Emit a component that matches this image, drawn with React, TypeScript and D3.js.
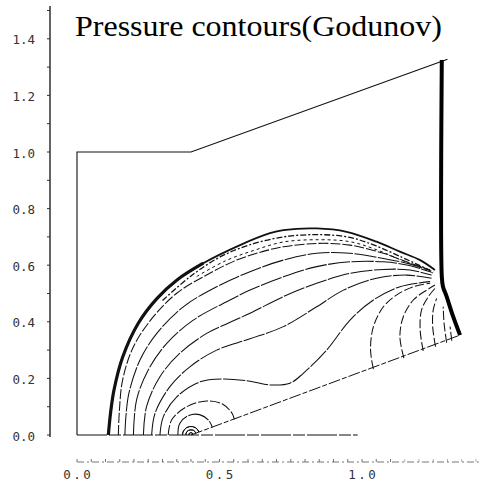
import React from "react";
import * as d3 from "d3";

type P = [number, number];

const title = "Pressure contours(Godunov)";
const yTickLabels = [0, 0.2, 0.4, 0.6, 0.8, 1.0, 1.2, 1.4];
const yMinorTicks = [0, 0.1, 0.2, 0.3, 0.4, 0.5, 0.6, 0.7, 0.8, 0.9, 1.0, 1.1, 1.2, 1.3, 1.4, 1.5];
const xTickLabels = [0, 0.5, 1.0];
const xMinorTicks = [0, 0.05, 0.1, 0.15, 0.2, 0.25, 0.3, 0.35, 0.4, 0.45, 0.5, 0.55, 0.6, 0.65, 0.7, 0.75, 0.8, 0.85, 0.9, 0.95, 1.0, 1.05, 1.1, 1.15, 1.2, 1.25, 1.3, 1.35, 1.4];

const boundary: P[] = [[0, 0], [0, 1], [0.4, 1], [1.3, 1.328]];
const symmetryLine: P[] = [[0, 0], [0.985, 0]];
const wedge: P[] = [[0.4, 0], [1.344, 0.353]];

const bowShock: P[] = [[0.110, 0], [0.118, 0.08], [0.130, 0.16], [0.160, 0.275], [0.215, 0.395], [0.281, 0.483], [0.351, 0.548], [0.443, 0.607], [0.572, 0.671], [0.677, 0.713], [0.724, 0.724], [0.841, 0.730], [0.946, 0.718], [1.051, 0.683], [1.133, 0.648], [1.204, 0.618], [1.256, 0.583]];
const bowShockThick: P[] = [[0.110, 0], [0.118, 0.08], [0.130, 0.16], [0.160, 0.275], [0.215, 0.395], [0.281, 0.483], [0.351, 0.548], [0.443, 0.607]];
const machStem: P[] = [[1.28, 1.325], [1.28, 0.56], [1.284, 0.525], [1.297, 0.489], [1.32, 0.418], [1.344, 0.353]];

const shockBand1: P[] = [[0.30, 0.475], [0.40, 0.562], [0.50, 0.628], [0.60, 0.670], [0.724, 0.700], [0.85, 0.708], [0.958, 0.698], [1.05, 0.668], [1.14, 0.628], [1.20, 0.600], [1.25, 0.575]];
const shockBand2: P[] = [[0.42, 0.56], [0.52, 0.615], [0.62, 0.652], [0.724, 0.682], [0.85, 0.690], [0.958, 0.683], [1.05, 0.655], [1.14, 0.617], [1.22, 0.585], [1.25, 0.572]];

const contour1: P[] = [[0.145, 0], [0.149, 0.09], [0.160, 0.194], [0.198, 0.312], [0.268, 0.418], [0.350, 0.501], [0.443, 0.559], [0.560, 0.618], [0.677, 0.655], [0.724, 0.665], [0.841, 0.677], [0.958, 0.671], [1.075, 0.642], [1.157, 0.612], [1.239, 0.583]];
const contour2: P[] = [[0.168, 0], [0.172, 0.07], [0.182, 0.147], [0.221, 0.265], [0.280, 0.359], [0.373, 0.453], [0.490, 0.524], [0.607, 0.577], [0.724, 0.618], [0.841, 0.642], [0.958, 0.642], [1.075, 0.624], [1.157, 0.607], [1.239, 0.583]];
const contour3: P[] = [[0.198, 0], [0.209, 0.124], [0.250, 0.230], [0.315, 0.324], [0.408, 0.406], [0.537, 0.477], [0.607, 0.512], [0.724, 0.559], [0.841, 0.595], [0.958, 0.612], [1.075, 0.612], [1.157, 0.601], [1.239, 0.577]];
const contour4: P[] = [[0.233, 0], [0.244, 0.100], [0.291, 0.206], [0.361, 0.289], [0.455, 0.359], [0.530, 0.395], [0.607, 0.430], [0.724, 0.489], [0.841, 0.536], [0.958, 0.571], [1.075, 0.585], [1.168, 0.583], [1.244, 0.565]];
const contour5: P[] = [[0.262, 0], [0.274, 0.077], [0.326, 0.171], [0.396, 0.241], [0.490, 0.300], [0.607, 0.340], [0.724, 0.383], [0.841, 0.453], [0.935, 0.512], [1.051, 0.554], [1.157, 0.565], [1.244, 0.554]];
const contour6: P[] = [[0.291, 0], [0.303, 0.065], [0.350, 0.135], [0.432, 0.188], [0.513, 0.198], [0.607, 0.19], [0.677, 0.177], [0.747, 0.183], [0.794, 0.218], [0.876, 0.300], [0.958, 0.406], [1.040, 0.477], [1.133, 0.524], [1.239, 0.542]];
const contour7: P[] = [[0.320, 0], [0.332, 0.053], [0.385, 0.100], [0.455, 0.120], [0.513, 0.108], [0.545, 0.075], [0.552, 0.055]];
const contour8: P[] = [[0.354, 0], [0.36, 0.04], [0.39, 0.068], [0.43, 0.072], [0.462, 0.052], [0.475, 0.027]];
const vertexRadii = [0.03, 0.018, 0.008];

const right1: P[] = [[1.040, 0.233], [1.030, 0.300], [1.040, 0.383], [1.075, 0.453], [1.122, 0.495], [1.180, 0.524], [1.239, 0.536]];
const right2: P[] = [[1.147, 0.272], [1.133, 0.347], [1.145, 0.418], [1.180, 0.477], [1.227, 0.512], [1.256, 0.530]];
const right3: P[] = [[1.215, 0.297], [1.204, 0.371], [1.209, 0.442], [1.233, 0.489], [1.256, 0.518]];
const right4: P[] = [[1.258, 0.312], [1.248, 0.383], [1.250, 0.442], [1.262, 0.483]];
const right5: P[] = [[1.297, 0.326], [1.288, 0.395], [1.285, 0.453]];
const right6: P[] = [[1.315, 0.333], [1.309, 0.383]];

const mainContours = [contour1, contour2, contour3, contour4, contour5, contour6, contour7, contour8];
const rightContours = [right1, right2, right3, right4, right5, right6];

export default function App() {
  const W = 499, H = 492;
  const X = d3.scaleLinear().domain([0, 1]).range([77, 362]);
  const Y = d3.scaleLinear().domain([0, 1]).range([435, 152]);
  const smooth = d3.line<P>().x(d => X(d[0])).y(d => Y(d[1])).curve(d3.curveCatmullRom.alpha(0.5));
  const straight = d3.line<P>().x(d => X(d[0])).y(d => Y(d[1]));
  const axisX = 50;
  const xAxisY = 462;
  const ink = "#111";
  const wedgeAngle = Math.atan2(wedge[1][1] - wedge[0][1], wedge[1][0] - wedge[0][0]);
  const arcGen = d3.arc<any>();

  return (
    <svg width={W} height={H} style={{ position: "absolute", left: 0, top: 0, background: "#fff" }}>
      <rect x={0} y={0} width={W} height={H} fill="#fff" />
      {/* title */}
      <text x={75} y={36} fontFamily="'Liberation Serif', 'DejaVu Serif', serif" fontSize={29} fill="#000" textLength={367} lengthAdjust="spacingAndGlyphs">{title}</text>

      {/* y axis */}
      <line x1={axisX} x2={axisX} y1={Y(-0.007)} y2={6} stroke="#222" strokeWidth={1.4} />
      {yMinorTicks.map(t => (
        <line key={"ym" + t} x1={axisX - 3} x2={axisX} y1={Y(t)} y2={Y(t)} stroke="#333" strokeWidth={1} />
      ))}
      {yTickLabels.map(t => (
        <text key={"yl" + t} x={35} y={Y(t) + 2} textAnchor="end" dominantBaseline="middle" fontFamily="'DejaVu Sans Mono', monospace" fontSize={12.5} fill="#333">{t.toFixed(1)}</text>
      ))}

      {/* x axis (faint dotted) */}
      <line x1={X(0)} x2={X(1.41)} y1={xAxisY} y2={xAxisY} stroke="#777" strokeWidth={1} strokeDasharray="7,3,2,3" />
      {xMinorTicks.map((t, i) => (
        <line key={"xm" + t} x1={X(t)} x2={X(t)} y1={xAxisY} y2={xAxisY - 3} stroke="#666" strokeWidth={1} opacity={t > 1.1 ? 0.5 : 0.9} />
      ))}
      {xTickLabels.map(t => (
        <text key={"xl" + t} x={X(t) + 1.2} y={475} textAnchor="middle" dominantBaseline="middle" fontFamily="'DejaVu Sans Mono', monospace" fontSize={12.5} letterSpacing={2.4} fill="#333">{t.toFixed(1)}</text>
      ))}

      {/* domain boundary */}
      <path d={straight(boundary) || ""} fill="none" stroke={ink} strokeWidth={1.1} />
      <path d={straight(symmetryLine) || ""} fill="none" stroke={ink} strokeWidth={1.1} strokeDasharray="30,2,12,2" />
      <path d={straight(wedge) || ""} fill="none" stroke={ink} strokeWidth={1} strokeDasharray="12,2,5,2" />

      {/* shocks */}
      <path d={smooth(bowShock) || ""} fill="none" stroke={ink} strokeWidth={1.8} />
      <path d={smooth(bowShockThick) || ""} fill="none" stroke={ink} strokeWidth={3.2} />
      <path d={smooth(shockBand1) || ""} fill="none" stroke={ink} strokeWidth={1.3} strokeDasharray="6,2,2,2" />
      <path d={smooth(shockBand2) || ""} fill="none" stroke={ink} strokeWidth={1} strokeDasharray="3,3" />
      <path d={smooth(machStem) || ""} fill="none" stroke="#000" strokeWidth={4} />

      {/* contours */}
      {mainContours.map((c, i) => (
        <path key={"c" + i} d={smooth(c) || ""} fill="none" stroke={ink} strokeWidth={1.05} strokeDasharray={i === 0 || i === 6 ? "10,2" : "22,1.5"} />
      ))}
      {rightContours.map((c, i) => (
        <path key={"r" + i} d={smooth(c) || ""} fill="none" stroke={ink} strokeWidth={1.05} strokeDasharray="9,2.5" />
      ))}
      {vertexRadii.map((r, i) => {
        const rp = X(r) - X(0);
        return (
          <path key={"v" + i} transform={`translate(${X(0.4)},${Y(0)})`}
            d={arcGen({ innerRadius: rp, outerRadius: rp, startAngle: -Math.PI / 2, endAngle: Math.PI / 2 - wedgeAngle }) || ""}
            fill="none" stroke={ink} strokeWidth={1} />
        );
      })}
    </svg>
  );
}
